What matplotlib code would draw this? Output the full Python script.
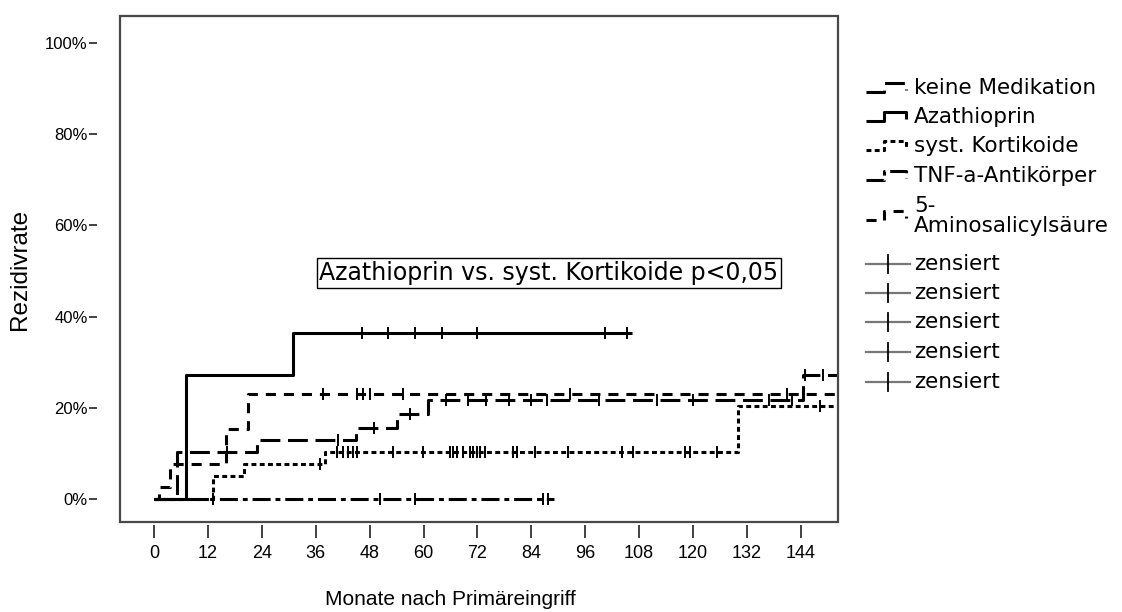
import numpy as np
import matplotlib
matplotlib.use('Agg')
import matplotlib.pyplot as plt
from matplotlib.lines import Line2D
from matplotlib.patches import Rectangle

plt.rcParams['font.family'] = ['Liberation Sans', 'DejaVu Sans']

# Kaplan-Meier Schritte: Zeit (Monate) und kumulative Rezidivrate (%)
keine_t = [0, 5, 23, 45, 54, 61, 144.5]
keine_y = [0, 10.3, 13.0, 15.6, 18.7, 21.7, 27.2]
keine_end = 152
keine_cens = [16.3, 41, 49, 57, 65, 70, 74, 79, 84, 87.5, 99, 112, 120, 137, 142, 145, 149]

aza_t = [0, 7, 31]
aza_y = [0, 27.3, 36.4]
aza_end = 106.5
aza_cens = [46.3, 52, 58, 64, 72, 100.4, 105.3]

korti_t = [0, 13, 20, 38, 130]
korti_y = [0, 5.1, 7.7, 10.3, 20.5]
korti_end = 152
korti_cens = [37, 40.8, 42.1, 43.2, 44.3, 45.2, 53.2, 59.9, 65.9, 66.6, 67.5, 68.8,
              70.4, 71, 71.9, 72.6, 73.7, 80, 80.8, 84.9, 92.2, 104.2, 106.7,
              118.3, 119.4, 125.4, 148.3]

tnf_t = [0]
tnf_y = [0]
tnf_end = 89
tnf_cens = [13, 50.3, 58, 86.6, 87.8]

asa_t = [0, 1, 3.5, 16, 21]
asa_y = [0, 2.6, 7.7, 15.4, 23.1]
asa_end = 152
asa_cens = [37.6, 45.2, 46.5, 48, 55.5, 92.6, 141]

groups = ['keine Medikation', 'Azathioprin', 'syst. Kortikoide',
          'TNF-a-Antikörper', '5-\nAminosalicylsäure']
xticks = list(range(0, 145, 12))
yticks = [0, 20, 40, 60, 80, 100]

W, H = 1122, 612
lw = 2.2
styles = [(0, (6.5, 2.5)), '-', (0, (1.6, 1.1)), (0, (5.9, 1.6, 1.6, 1.6)), (0, (3.3, 2.6))]
series = [(keine_t, keine_y, keine_end, keine_cens),
          (aza_t, aza_y, aza_end, aza_cens),
          (korti_t, korti_y, korti_end, korti_cens),
          (tnf_t, tnf_y, tnf_end, tnf_cens),
          (asa_t, asa_y, asa_end, asa_cens)]

fig = plt.figure(figsize=(W / 100, H / 100), dpi=100)
ax = fig.add_axes([120 / W, 1 - 522 / H, 718 / W, 506 / H])

for (t, y, end, cens), ls in zip(series, styles):
    tt = list(t) + [end]
    yy = list(y) + [y[-1]]
    ax.step(tt, yy, where='post', color='black', lw=lw, linestyle=ls,
            solid_capstyle='butt', dash_capstyle='butt')
    idx = np.searchsorted(t, cens, side='right') - 1
    cy = np.array(y)[idx]
    ax.plot(cens, cy, linestyle='none', marker='|', ms=9, mew=1.4, color='black')

ax.set_xlim(-7.6, 152.3)
ax.set_ylim(-5, 105.9)

# SPSS-Stil: Achsen abgesetzt vom Rahmen
for side in ['top', 'right']:
    ax.spines[side].set_visible(False)
ax.spines['left'].set_position(('outward', 16.5))
ax.spines['bottom'].set_position(('outward', 2))
ax.spines['left'].set_visible(False)
ax.spines['bottom'].set_visible(False)
ax.add_patch(Rectangle((0, 0), 1, 1, transform=ax.transAxes, fill=False,
                       ec='#484848', lw=1.6, clip_on=False, zorder=5))

ax.set_xticks(xticks)
ax.set_xticklabels([str(v) for v in xticks], fontsize=13)
ax.set_yticks(yticks)
ax.set_yticklabels([f'{v}%' for v in yticks], fontsize=12)
ax.tick_params(axis='x', length=9.4, width=1.3, pad=5.5, color='#333333')
ax.tick_params(axis='y', length=5.8, width=1.3, pad=1, color='#333333')

ax.set_xlabel('Monate nach Primäreingriff', fontsize=15, labelpad=20)
ax.xaxis.label.set_x(0.46)
ax.set_ylabel('Rezidivrate', fontsize=17.5, labelpad=10)

ax.text(0.5975, 0.492, 'Azathioprin vs. syst. Kortikoide p<0,05', transform=ax.transAxes,
        ha='center', va='center', fontsize=17, family=['DejaVu Sans'],
        bbox=dict(boxstyle='square,pad=0.12', facecolor='white', edgecolor='black', lw=1))

# Legende (rechts, wie in SPSS mit kleinen Stufen-Symbolen)
row_y = [88, 117, 146, 176, 216, 264, 293, 322, 352, 382]
labels = groups + ['zensiert'] * 5


def fx(px):
    return px / W


def fy(py):
    return 1 - py / H


for i, lab in enumerate(labels):
    yc = row_y[i]
    if i < 5:
        xs = [866, 884, 884, 906, 906]
        ys = [yc + 4, yc + 4, yc - 5, yc - 5, yc + 2]
        fig.add_artist(Line2D([fx(v) for v in xs], [fy(v) for v in ys], color='black',
                              lw=lw, linestyle=styles[i], solid_capstyle='butt',
                              transform=fig.transFigure))
    else:
        fig.add_artist(Line2D([fx(866), fx(910)], [fy(yc), fy(yc)], color='#777777',
                              lw=1.6, transform=fig.transFigure))
        fig.add_artist(Line2D([fx(888), fx(888)], [fy(yc - 9), fy(yc + 9)], color='black',
                              lw=1.3, transform=fig.transFigure))
    fig.text(fx(914), fy(yc), lab, ha='left', va='center', fontsize=15.5,
             family=['DejaVu Sans'], linespacing=0.95)

fig.savefig('out.png', dpi=100)
